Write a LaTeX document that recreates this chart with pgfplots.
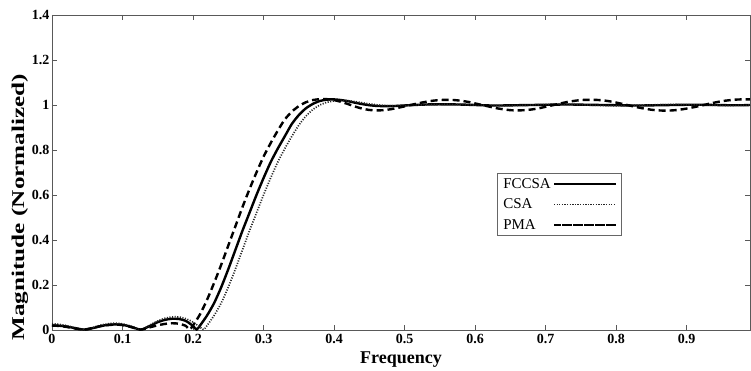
\documentclass[border=0pt]{standalone}
\usepackage{pgfplots}
\pgfplotsset{compat=1.18}
\usepackage{fontspec}
\setmainfont{Liberation Serif}
\begin{document}
\begin{tikzpicture}
\begin{axis}[
  scale only axis, width=698pt, height=315pt,
  xmin=0, xmax=0.99, ymin=0, ymax=1.4,
  xtick={0,0.1,0.2,0.3,0.4,0.5,0.6,0.7,0.8,0.9},
  xticklabels={0,0.1,0.2,0.3,0.4,0.5,0.6,0.7,0.8,0.9},
  ytick={0,0.2,0.4,0.6,0.8,1,1.2,1.4},
  yticklabels={0,0.2,0.4,0.6,0.8,1,1.2,1.4},
  tick align=inside, major tick length=5pt,
  axis line style={black!65, line width=0.8pt},
  tick style={black!65, line width=0.6pt},
  tick label style={font=\bfseries\fontsize{14}{14}\selectfont},
  xticklabel style={yshift=-1pt},
  yticklabel style={xshift=1pt},
  xlabel={\bfseries\fontsize{18}{18}\selectfont Frequency},
  ylabel={\scalebox{1.4}[1]{\bfseries\fontsize{18}{18}\selectfont Magnitude (Normalized)}},
  xlabel style={yshift=-1pt},
  ylabel style={at={(ticklabel cs:0.39)}, yshift=-3pt},
  legend plot pos=right,
  legend style={at={(0.6375,0.498)}, anchor=north west, draw=black!60, line width=0.6pt,
    font=\fontsize{15}{15}\selectfont, row sep=5pt, inner xsep=4pt, inner ysep=3pt},
  legend cell align=left,
  legend image code/.code={\path (0pt,0pt) -- (62pt,0pt); \draw[#1] (8pt,0pt) -- (55pt,0pt);},
  clip=true,
]
\addplot[black, line width=2.4pt, smooth, tension=0.4] coordinates {
(0.00,0.020)(0.01,0.019)(0.02,0.016)(0.03,0.010)(0.04,0.004)(0.045,0.002)(0.05,0.003)
(0.06,0.010)(0.07,0.018)(0.08,0.023)(0.09,0.025)(0.10,0.023)(0.11,0.016)(0.12,0.006)
(0.125,0.002)(0.13,0.005)(0.14,0.020)(0.15,0.035)(0.16,0.045)(0.17,0.050)(0.18,0.049)
(0.19,0.040)(0.20,0.018)(0.205,0.002)(0.21,0.020)(0.22,0.065)(0.23,0.120)(0.24,0.190)
(0.25,0.270)(0.26,0.355)(0.27,0.440)(0.28,0.520)(0.29,0.600)(0.30,0.675)(0.31,0.745)
(0.32,0.805)(0.33,0.860)(0.34,0.915)(0.35,0.955)(0.36,0.985)(0.37,1.005)(0.38,1.018)
(0.39,1.024)(0.40,1.025)(0.41,1.022)(0.42,1.017)(0.43,1.010)(0.44,1.004)(0.45,0.999)
(0.46,0.996)(0.47,0.995)(0.48,0.995)(0.49,0.996)(0.50,0.998)(0.52,1.001)(0.54,1.003)
(0.56,1.003)(0.58,1.002)(0.60,1.000)(0.62,0.998)(0.64,0.998)(0.66,0.999)(0.68,1.000)
(0.70,1.001)(0.72,1.002)(0.74,1.002)(0.76,1.001)(0.78,1.000)(0.80,0.999)(0.82,0.998)
(0.84,0.998)(0.86,0.999)(0.88,1.000)(0.90,1.001)(0.92,1.001)(0.94,1.000)(0.96,0.999)
(0.98,0.999)(0.99,1.000)
};
\addlegendentry{FCCSA}
\addplot[black!85, line width=1.7pt, dash pattern=on 1.1pt off 1.5pt, smooth, tension=0.4] coordinates {
(0.00,0.028)(0.01,0.025)(0.02,0.020)(0.03,0.012)(0.04,0.005)(0.045,0.003)(0.05,0.005)
(0.06,0.013)(0.07,0.022)(0.08,0.028)(0.09,0.030)(0.10,0.027)(0.11,0.019)(0.12,0.008)
(0.125,0.003)(0.13,0.006)(0.14,0.024)(0.15,0.040)(0.16,0.052)(0.17,0.058)(0.18,0.058)
(0.19,0.050)(0.20,0.035)(0.21,0.013)(0.215,0.002)(0.22,0.020)(0.23,0.065)(0.24,0.120)
(0.25,0.190)(0.26,0.270)(0.27,0.355)(0.28,0.440)(0.29,0.520)(0.30,0.600)(0.31,0.675)
(0.32,0.745)(0.33,0.805)(0.34,0.860)(0.35,0.910)(0.36,0.950)(0.37,0.980)(0.38,1.000)
(0.39,1.012)(0.40,1.018)(0.41,1.020)(0.42,1.019)(0.43,1.015)(0.44,1.010)(0.45,1.005)
(0.46,1.001)(0.47,0.998)(0.48,0.997)(0.50,0.998)(0.52,1.000)(0.54,1.002)(0.56,1.003)
(0.58,1.002)(0.60,1.000)(0.62,0.998)(0.64,0.997)(0.66,0.998)(0.68,1.000)(0.70,1.002)
(0.72,1.003)(0.74,1.002)(0.76,1.000)(0.78,0.998)(0.80,0.997)(0.82,0.998)(0.84,1.000)
(0.86,1.001)(0.88,1.002)(0.90,1.001)(0.92,1.000)(0.94,0.999)(0.96,0.998)(0.98,0.999)
(0.99,1.000)
};
\addlegendentry{CSA}
\addplot[black, line width=2.4pt, dash pattern=on 7pt off 4pt, smooth, tension=0.4] coordinates {
(0.00,0.020)(0.01,0.018)(0.02,0.014)(0.03,0.008)(0.04,0.003)(0.045,0.002)(0.05,0.004)
(0.06,0.011)(0.07,0.018)(0.08,0.022)(0.09,0.024)(0.10,0.022)(0.11,0.015)(0.12,0.006)
(0.125,0.002)(0.13,0.004)(0.14,0.013)(0.15,0.021)(0.16,0.027)(0.17,0.030)(0.18,0.028)
(0.19,0.018)(0.195,0.002)(0.20,0.020)(0.21,0.070)(0.22,0.135)(0.23,0.210)(0.24,0.290)
(0.25,0.375)(0.26,0.460)(0.27,0.545)(0.28,0.625)(0.29,0.700)(0.30,0.770)(0.31,0.830)
(0.32,0.885)(0.33,0.935)(0.34,0.970)(0.35,0.995)(0.36,1.012)(0.37,1.022)(0.38,1.026)
(0.39,1.026)(0.40,1.022)(0.41,1.014)(0.42,1.004)(0.43,0.993)(0.44,0.984)(0.45,0.978)
(0.46,0.976)(0.47,0.977)(0.48,0.981)(0.49,0.987)(0.50,0.994)(0.51,1.001)(0.52,1.008)
(0.53,1.014)(0.54,1.019)(0.55,1.022)(0.56,1.023)(0.57,1.022)(0.58,1.019)(0.59,1.014)
(0.60,1.007)(0.61,1.000)(0.62,0.993)(0.63,0.986)(0.64,0.981)(0.65,0.977)(0.66,0.976)
(0.67,0.977)(0.68,0.980)(0.69,0.985)(0.70,0.992)(0.71,0.999)(0.72,1.006)(0.73,1.013)
(0.74,1.018)(0.75,1.022)(0.76,1.023)(0.77,1.023)(0.78,1.021)(0.79,1.017)(0.80,1.011)
(0.81,1.004)(0.82,0.997)(0.83,0.990)(0.84,0.984)(0.85,0.979)(0.86,0.976)(0.87,0.975)
(0.88,0.976)(0.89,0.979)(0.90,0.984)(0.91,0.990)(0.92,0.997)(0.93,1.004)(0.94,1.011)
(0.95,1.017)(0.96,1.021)(0.97,1.024)(0.98,1.025)(0.99,1.025)
};
\addlegendentry{PMA}
\end{axis}
\path ([shift={(-52pt,15pt)}]current axis.north west) rectangle ([shift={(1pt,-40pt)}]current axis.south east);
\end{tikzpicture}
\end{document}
